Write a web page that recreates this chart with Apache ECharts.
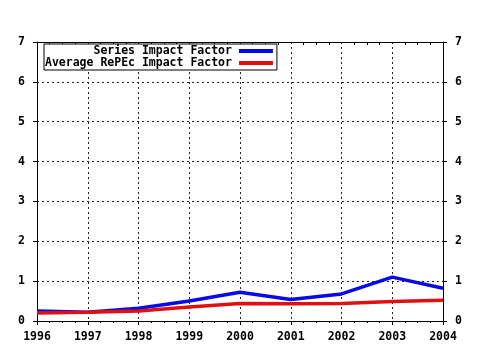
<!DOCTYPE html>
<html><head><meta charset="utf-8">
<script src="https://cdn.jsdelivr.net/npm/echarts@6/dist/echarts.min.js"></script>
<style>html,body{margin:0;padding:0;background:#fff}#c{width:480px;height:350px}</style>
</head><body><div id="c"></div>
<script>
const years = [1996, 1997, 1998, 1999, 2000, 2001, 2002, 2003, 2004];
const seriesIF = [0.25, 0.22, 0.32, 0.50, 0.72, 0.54, 0.68, 1.10, 0.82];
const repecIF = [0.20, 0.22, 0.25, 0.35, 0.44, 0.43, 0.44, 0.49, 0.52];
const seriesNames = ['       Series Impact Factor', 'Average RePEc Impact Factor'];

const font = 'DejaVu Sans Mono';
const lbl = {color: '#000', fontFamily: font, fontWeight: 'bold', fontSize: 11.5};
const grid = {show: true, lineStyle: {color: '#222', type: [2, 3], width: 1}};
const axisLine = {show: true, onZero: false, lineStyle: {color: '#000', width: 1}};

const chart = echarts.init(document.getElementById('c'), null, {renderer: 'canvas'});
chart.setOption({
  animation: false,
  backgroundColor: '#fff',
  grid: {left: 37, right: 37, top: 42, bottom: 29, containLabel: false},
  legend: {
    orient: 'vertical', left: 44, top: 44, align: 'right',
    backgroundColor: '#fff', borderColor: '#000', borderWidth: 1,
    padding: [1, 4, 1, 1], itemGap: 0, itemWidth: 34, itemHeight: 4,
    icon: 'rect', textStyle: Object.assign({lineHeight: 12, padding: [0, 2, 0, 0]}, lbl),
    data: seriesNames
  },
  xAxis: [{
    type: 'value', min: years[0], max: years[years.length - 1], interval: 1,
    position: 'bottom',
    axisLine, axisTick: {show: true, length: 4, lineStyle: {color: '#000'}},
    minorTick: {show: true, splitNumber: 4, length: 2, lineStyle: {color: '#000'}},
    axisLabel: Object.assign({margin: 10, formatter: v => String(v)}, lbl),
    splitLine: grid
  }, {
    type: 'value', min: years[0], max: years[years.length - 1], interval: 1,
    position: 'top',
    axisLine, axisTick: {show: false},
    minorTick: {show: true, splitNumber: 4, length: -3, lineStyle: {color: '#000'}},
    axisLabel: {show: false}, splitLine: {show: false}
  }],
  yAxis: [{
    type: 'value', min: 0, max: 7, interval: 1, position: 'left',
    axisLine, axisTick: {show: true, length: 4, lineStyle: {color: '#000'}},
    axisLabel: Object.assign({margin: 12}, lbl), splitLine: grid
  }, {
    type: 'value', min: 0, max: 7, interval: 1, position: 'right',
    axisLine, axisTick: {show: true, length: 4, lineStyle: {color: '#000'}},
    axisLabel: Object.assign({margin: 12}, lbl), splitLine: {show: false}
  }],
  series: [{
    name: seriesNames[0], type: 'line', showSymbol: false, symbol: 'none',
    data: years.map((y, i) => [y, seriesIF[i]]),
    lineStyle: {color: '#0a0ae6', width: 3.5}, itemStyle: {color: '#0a0ae6'}
  }, {
    name: seriesNames[1], type: 'line', showSymbol: false, symbol: 'none',
    data: years.map((y, i) => [y, repecIF[i]]),
    lineStyle: {color: '#e01010', width: 3.5}, itemStyle: {color: '#e01010'}
  }]
});
</script></body></html>
